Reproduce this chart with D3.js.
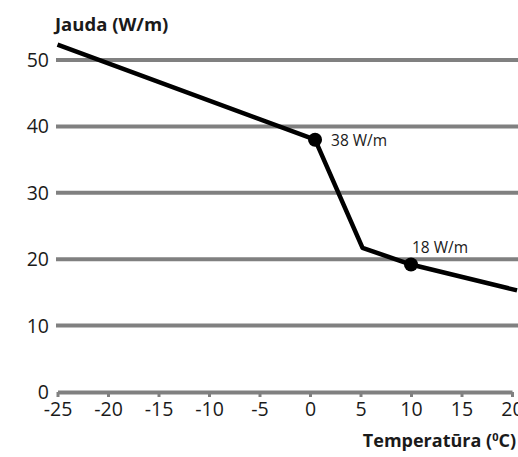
<!DOCTYPE html>
<html>
<head>
<meta charset="utf-8">
<script src="https://cdn.jsdelivr.net/npm/d3@7"></script>
<style>
  body { margin: 0; background: #fff; }
  text { font-family: "Open Sans", sans-serif; fill: #1a1a1a; }
</style>
</head>
<body>
<div id="chart"></div>
<script>
// line data (temperature, power)
let temps = [-25, 0.5, 5.2, 10, 20.5];
let powers = [52.3, 38, 21.7, 19.2, 15.3];
// marked points and their labels
let markTemps = [0.5, 10];
let markPowers = [38, 19.2];
let markLabels = ["38 W/m", "18 W/m"];
let xTicks = [-25, -20, -15, -10, -5, 0, 5, 10, 15, 20];
let yTicks = [0, 10, 20, 30, 40, 50];

let width = 518;
let height = 457;

let svg = d3.select("#chart")
  .append("svg")
  .attr("width", width)
  .attr("height", height);

let x = d3.scaleLinear().domain([-25, 20]).range([57.5, 512]);
let y = d3.scaleLinear().domain([0, 50]).range([392, 60]);

// grid lines
svg.selectAll(".grid")
  .data(yTicks.filter(d => d > 0))
  .enter()
  .append("line")
  .attr("x1", 56)
  .attr("x2", width)
  .attr("y1", d => y(d))
  .attr("y2", d => y(d))
  .attr("stroke", "#808080")
  .attr("stroke-width", 4);

// x axis
let xAxis = svg.append("g")
  .attr("transform", "translate(0," + y(0) + ")")
  .call(d3.axisBottom(x).tickValues(xTicks).tickFormat(d => String(d))
    .tickSize(5).tickSizeOuter(0).tickPadding(5));
xAxis.select(".domain").attr("stroke", "#808080").attr("stroke-width", 4);
xAxis.selectAll(".tick line").attr("stroke", "#808080").attr("stroke-width", 3);
xAxis.selectAll(".tick text")
  .style("font-family", "'Open Sans', sans-serif")
  .style("font-size", "19.5px")
  .attr("fill", "#1a1a1a");

// y labels
svg.selectAll(".ylab")
  .data(yTicks)
  .enter()
  .append("text")
  .attr("x", 49)
  .attr("y", d => y(d) + 7)
  .attr("text-anchor", "end")
  .style("font-size", "19.5px")
  .text(d => d);

// line
let line = d3.line()
  .x(d => x(d[0]))
  .y(d => y(d[1]));

svg.append("path")
  .datum(temps.map((t, i) => [t, powers[i]]))
  .attr("d", line)
  .attr("fill", "none")
  .attr("stroke", "#000")
  .attr("stroke-width", 4.5)
  .attr("stroke-linejoin", "round");

// marked points
svg.selectAll(".mark")
  .data(markTemps)
  .enter()
  .append("circle")
  .attr("cx", d => x(d))
  .attr("cy", (d, i) => y(markPowers[i]))
  .attr("r", 7)
  .attr("fill", "#000");

svg.append("text")
  .attr("x", x(markTemps[0]) + 16)
  .attr("y", y(markPowers[0]) + 6)
  .style("font-size", "15.5px")
  .text(markLabels[0]);

svg.append("text")
  .attr("x", x(markTemps[1]) + 1)
  .attr("y", y(markPowers[1]) - 12)
  .style("font-size", "15.5px")
  .text(markLabels[1]);

// axis titles
svg.append("text")
  .attr("x", 55)
  .attr("y", 31)
  .style("font-size", "18.5px")
  .style("font-weight", "bold")
  .text("Jauda (W/m)");

let xt = svg.append("text")
  .attr("x", 516)
  .attr("y", 447)
  .attr("text-anchor", "end")
  .style("font-size", "18px")
  .style("font-weight", "bold");
xt.append("tspan").text("Temperatūra (");
xt.append("tspan").attr("dy", -6).style("font-size", "11px").text("0");
xt.append("tspan").attr("dy", 6).text("C)");
</script>
</body>
</html>
